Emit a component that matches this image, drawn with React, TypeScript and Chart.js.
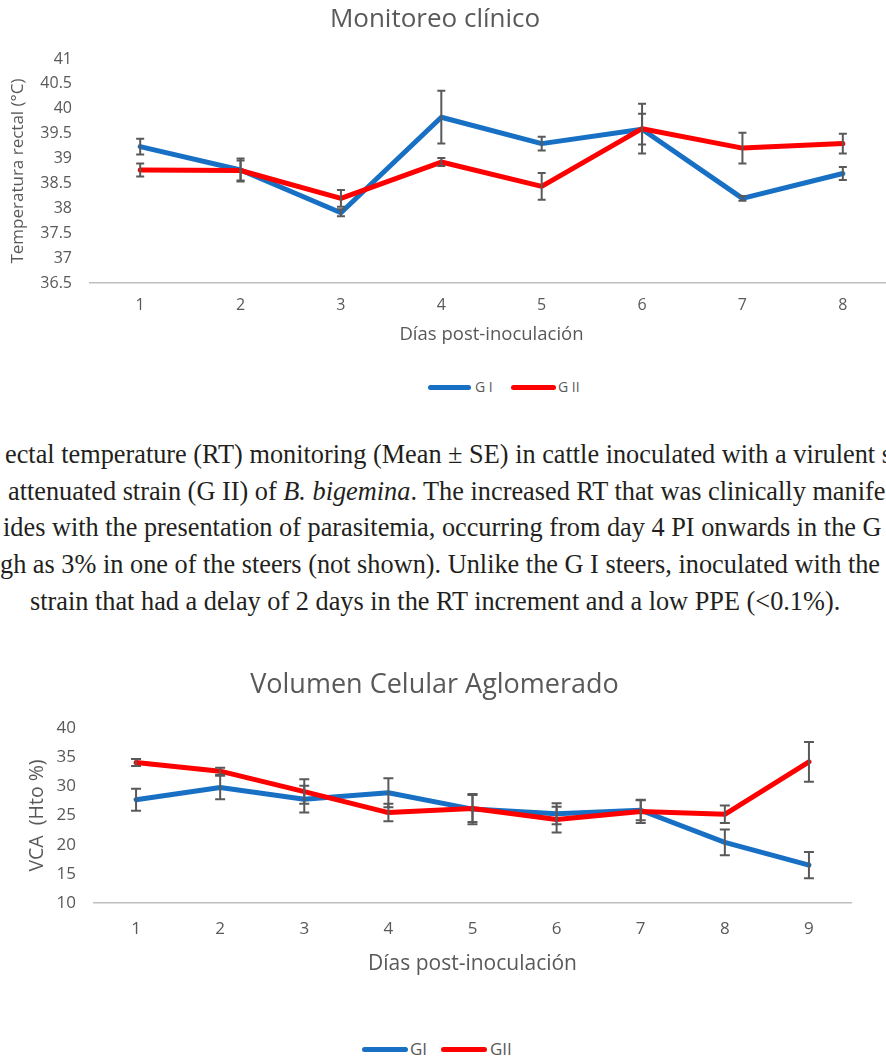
import React, { useEffect, useRef } from "react";
import { Chart, registerables } from "chart.js";

Chart.register(...registerables);

// ---------- data ----------
const tempDays = ["1", "2", "3", "4", "5", "6", "7", "8"];
const tempG1 = [39.24, 38.77, 37.91, 39.83, 39.3, 39.59, 38.2, 38.7];
const tempG1Se = [0.16, 0.23, 0.07, 0.53, 0.14, 0.31, 0.05, 0.13];
const tempG2 = [38.77, 38.76, 38.2, 38.93, 38.44, 39.6, 39.21, 39.3];
const tempG2Se = [0.13, 0.2, 0.17, 0.08, 0.27, 0.5, 0.31, 0.2];

const vcaDays = ["1", "2", "3", "4", "5", "6", "7", "8", "9"];
const vcaG1 = [27.7, 29.8, 27.8, 28.9, 26.1, 25.3, 25.9, 20.4, 16.5];
const vcaG1Se = [1.9, 2.0, 2.3, 2.5, 2.6, 1.8, 1.7, 2.2, 2.25];
const vcaG2 = [34.1, 32.6, 29.1, 25.5, 26.2, 24.3, 25.7, 25.2, 34.2];
const vcaG2Se = [0.6, 0.6, 2.1, 1.5, 2.3, 2.2, 2.0, 1.5, 3.4];

const seriesNames1 = ["G I", "G II"];
const seriesNames2 = ["GI", "GII"];

// ---------- styles ----------
const BLUE = "#1870c4";
const RED = "#ff0000";
const GRAY = "#595959";
const AXIS = "#bfbfbf";
const FONT = "'Open Sans', 'Noto Sans', sans-serif";

const errorBarPlugin = {
  id: "errorBars",
  afterDatasetsDraw(chart: any, _args: any, opts: any) {
    const { ctx } = chart;
    const yScale = chart.scales.y;
    const errs: number[][] = opts.errors || [];
    const cap = opts.cap || 4;
    ctx.save();
    ctx.strokeStyle = opts.color || GRAY;
    ctx.lineWidth = opts.width || 2;
    chart.data.datasets.forEach((ds: any, i: number) => {
      const meta = chart.getDatasetMeta(i);
      const e = errs[i];
      if (!e) return;
      meta.data.forEach((pt: any, j: number) => {
        const v = ds.data[j];
        const x = pt.x;
        const yt = yScale.getPixelForValue(v + e[j]);
        const yb = yScale.getPixelForValue(v - e[j]);
        ctx.beginPath();
        ctx.moveTo(x, yt);
        ctx.lineTo(x, yb);
        ctx.moveTo(x - cap, yt);
        ctx.lineTo(x + cap, yt);
        ctx.moveTo(x - cap, yb);
        ctx.lineTo(x + cap, yb);
        ctx.stroke();
      });
    });
    ctx.restore();
  },
};

function lineDs(label: string, data: number[], color: string, order: number) {
  return {
    label,
    data,
    borderColor: color,
    backgroundColor: color,
    borderWidth: 5,
    pointRadius: 0,
    pointHoverRadius: 0,
    tension: 0,
    order,
    borderJoinStyle: "round",
    borderCapStyle: "round",
    fill: false,
  };
}

const plainNum = (v: any) => String(Math.round(Number(v) * 10) / 10);

function ChartCanvas({ config, left, top, width, height }: any) {
  const ref = useRef<HTMLCanvasElement>(null);
  useEffect(() => {
    if (!ref.current) return;
    const ch = new Chart(ref.current, config);
    return () => ch.destroy();
  }, []);
  return (
    <canvas
      ref={ref}
      width={width}
      height={height}
      style={{ position: "absolute", left, top, width, height }}
    />
  );
}

const config1: any = {
  type: "line",
  data: {
    labels: tempDays,
    datasets: [
      lineDs(seriesNames1[0], tempG1, BLUE, 1),
      lineDs(seriesNames1[1], tempG2, RED, 0),
    ],
  },
  options: {
    responsive: false,
    animation: false,
    devicePixelRatio: 1,
    layout: { padding: 0 },
    plugins: {
      legend: { display: false },
      tooltip: { enabled: false },
      title: {
        display: true,
        text: "Monitoreo clínico",
        color: GRAY,
        font: { family: FONT, size: 26, weight: "normal" },
        padding: { top: 4.4, bottom: 23.4 },
      },
      errorBars: { errors: [tempG1Se, tempG2Se], color: GRAY, width: 2, cap: 4 },
    },
    scales: {
      x: {
        type: "category",
        offset: true,
        grid: { display: false, drawTicks: false },
        border: { display: true, color: AXIS, width: 1.5 },
        ticks: { color: GRAY, font: { family: FONT, size: 16 }, padding: 13 },
        title: {
          display: true,
          text: "Días post-inoculación",
          color: GRAY,
          font: { family: FONT, size: 18.5 },
          padding: { top: 0, bottom: 13.9 },
        },
        afterFit: (s: any) => {
          s.height = 77;
        },
      },
      y: {
        min: 36.5,
        max: 41,
        grid: { display: false, drawTicks: false },
        border: { display: false },
        ticks: {
          stepSize: 0.5,
          color: GRAY,
          font: { family: FONT, size: 16 },
          padding: 18,
          callback: plainNum,
        },
        title: {
          display: true,
          text: "Temperatura rectal (°C)",
          color: GRAY,
          font: { family: FONT, size: 17 },
          padding: { top: 30.8, bottom: 0 },
        },
        afterFit: (s: any) => {
          s.width = 113;
        },
      },
    },
  },
  plugins: [errorBarPlugin],
};

const config2: any = {
  type: "line",
  data: {
    labels: vcaDays,
    datasets: [
      lineDs(seriesNames2[0], vcaG1, BLUE, 1),
      lineDs(seriesNames2[1], vcaG2, RED, 0),
    ],
  },
  options: {
    responsive: false,
    animation: false,
    devicePixelRatio: 1,
    layout: { padding: { left: 18, right: 19, top: 0, bottom: 0 } },
    plugins: {
      legend: { display: false },
      tooltip: { enabled: false },
      title: {
        display: true,
        text: "Volumen Celular Aglomerado",
        color: GRAY,
        font: { family: FONT, size: 27, weight: "normal" },
        padding: { top: 18.8, bottom: 26.8 },
      },
      errorBars: { errors: [vcaG1Se, vcaG2Se], color: GRAY, width: 2, cap: 5 },
    },
    scales: {
      x: {
        type: "category",
        offset: true,
        grid: { display: false, drawTicks: false },
        border: { display: true, color: AXIS, width: 1.5 },
        ticks: { color: GRAY, font: { family: FONT, size: 17 }, padding: 15.8 },
        title: {
          display: true,
          text: "Días post-inoculación",
          color: GRAY,
          font: { family: FONT, size: 21 },
          padding: { top: 0, bottom: 13.4 },
        },
        afterFit: (s: any) => {
          s.height = 87;
        },
      },
      y: {
        min: 10,
        max: 40,
        grid: { display: false, drawTicks: false },
        border: { display: false },
        ticks: {
          stepSize: 5,
          color: GRAY,
          font: { family: FONT, size: 17 },
          padding: 18,
          callback: plainNum,
        },
        title: {
          display: true,
          text: "VCA  (Hto %)",
          color: GRAY,
          font: { family: FONT, size: 19.5 },
          padding: { top: 7.3, bottom: 0 },
        },
        afterFit: (s: any) => {
          s.width = 76;
        },
      },
    },
  },
  plugins: [errorBarPlugin],
};

function LegendItem({ x, y, w, color, label, textX, size }: any) {
  return (
    <>
      <div
        style={{
          position: "absolute",
          left: x,
          top: y - 2.5,
          width: w,
          height: 5,
          borderRadius: 3,
          background: color,
        }}
      />
      <div
        style={{
          position: "absolute",
          left: textX,
          top: y - size * 0.7,
          fontFamily: FONT,
          fontSize: size,
          lineHeight: `${size * 1.4}px`,
          color: GRAY,
          whiteSpace: "nowrap",
        }}
      >
        {label}
      </div>
    </>
  );
}

const captionStyle: any = {
  position: "absolute",
  fontFamily: "'Liberation Serif', 'Times New Roman', serif",
  fontSize: 26.3,
  lineHeight: "36px",
  color: "#231f20",
  whiteSpace: "nowrap",
};

export default function App() {
  return (
    <div
      style={{
        position: "absolute",
        left: 0,
        top: 0,
        width: 886,
        height: 1056,
        overflow: "hidden",
        background: "#ffffff",
      }}
    >
      <ChartCanvas config={config1} left={-23} top={0} width={916} height={360} />
      <LegendItem x={428} y={387} w={43} color={BLUE} label={seriesNames1[0]} textX={475} size={14} />
      <LegendItem x={511} y={387} w={45} color={RED} label={seriesNames1[1]} textX={558} size={14} />

      <div style={{ ...captionStyle, left: 5, top: 437 }}>
        ectal temperature (RT) monitoring (Mean ± SE) in cattle inoculated with a virulent strain (G I) and
      </div>
      <div style={{ ...captionStyle, left: 8, top: 474 }}>
        attenuated strain (G II) of <i>B. bigemina</i>. The increased RT that was clinically manifested
      </div>
      <div style={{ ...captionStyle, left: 3, top: 510 }}>
        ides with the presentation of parasitemia, occurring from day 4 PI onwards in the G II
      </div>
      <div style={{ ...captionStyle, left: 0, top: 547 }}>
        gh as 3% in one of the steers (not shown). Unlike the G I steers, inoculated with the attenuated
      </div>
      <div style={{ ...captionStyle, left: 30, top: 584 }}>
        strain that had a delay of 2 days in the RT increment and a low PPE (&lt;0.1%).
      </div>

      <ChartCanvas config={config2} left={0} top={650} width={870} height={340} />
      <LegendItem x={362} y={1049} w={46} color={BLUE} label={seriesNames2[0]} textX={410} size={17} />
      <LegendItem x={441} y={1049} w={46} color={RED} label={seriesNames2[1]} textX={490} size={17} />
    </div>
  );
}
